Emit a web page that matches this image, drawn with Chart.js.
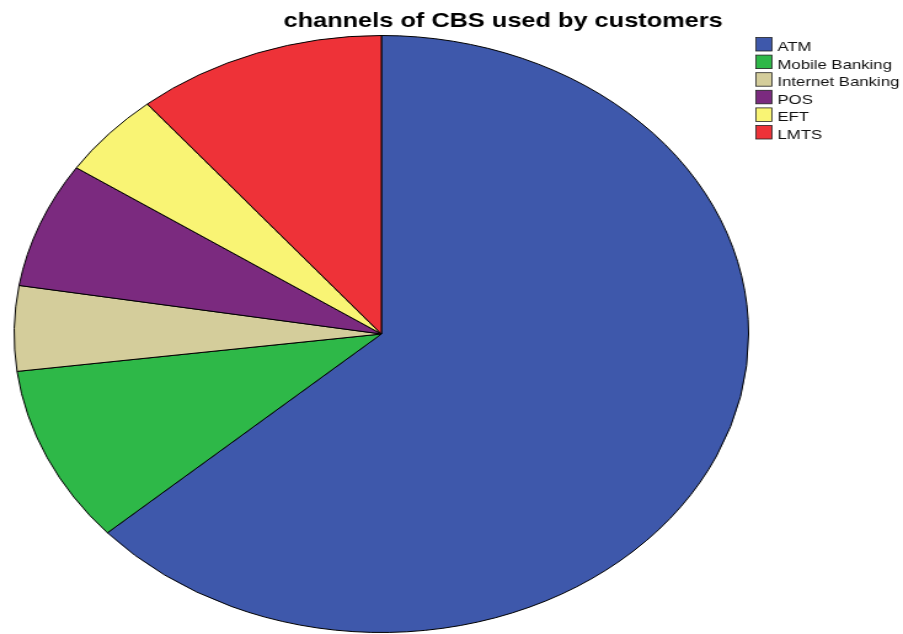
<!DOCTYPE html>
<html>
<head>
<meta charset="utf-8">
<script src="https://cdn.jsdelivr.net/npm/chart.js@4/dist/chart.umd.min.js"></script>
<style>
  html, body { margin: 0; padding: 0; background: #fff; overflow: hidden; }
  #wrap { width: 734px; height: 634px; transform: scaleX(1.2302); transform-origin: 0 0; }
</style>
</head>
<body>
<div id="wrap"><canvas id="myChart" width="734" height="634"></canvas></div>
<script>
// channels of CBS used by customers (percent of respondents)
var channels = ['ATM', 'Mobile Banking', 'Internet Banking', 'POS', 'EFT', 'LMTS'];
var share = [63.4, 9.6, 4.6, 6.8, 4.6, 11.0];
var colours = ['#3e58ab', '#2eb848', '#d4cd9b', '#7b2a7f', '#f9f474', '#ee3238'];
var chartTitle = 'channels of CBS used by customers';

var ctx = document.getElementById('myChart').getContext('2d');

// the original chart is stretched sideways, the wrapper does the stretch,
// title and legend are drawn here so they can sit where the original has them
var titleAndLegend = {
  id: 'titleAndLegend',
  afterDraw: function(chart) {
    var c = chart.ctx;
    c.save();
    c.fillStyle = '#000';
    c.font = 'bold 20.6px "Liberation Sans", Arial, sans-serif';
    c.textAlign = 'center';
    c.textBaseline = 'alphabetic';
    c.fillText(chartTitle, 409, 27);

    c.font = '13.6px "Liberation Sans", Arial, sans-serif';
    c.textAlign = 'left';
    for (var i = 0; i < channels.length; i++) {
      var y = 37.5 + i * 17.6;
      c.fillStyle = colours[i];
      c.fillRect(614.5, y, 13, 13.5);
      c.strokeStyle = '#222';
      c.lineWidth = 0.8;
      c.strokeRect(614.5, y, 13, 13.5);
      c.fillStyle = '#111';
      c.fillText(channels[i], 632, y + 13.5);
    }
    c.restore();
  }
};

var chart = new Chart(ctx, {
  type: 'pie',
  data: {
    labels: channels,
    datasets: [{
      data: share,
      backgroundColor: colours,
      borderColor: '#000',
      borderWidth: 1
    }]
  },
  options: {
    responsive: false,
    animation: false,
    layout: { padding: { top: 35, bottom: 1, left: 11, right: 125 } },
    plugins: {
      legend: { display: false },
      title: { display: false },
      tooltip: { enabled: false }
    }
  },
  plugins: [titleAndLegend]
});
</script>
</body>
</html>
